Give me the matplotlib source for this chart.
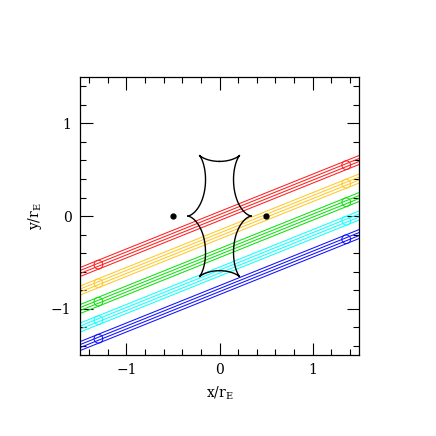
import numpy as np
import matplotlib
matplotlib.use('Agg')
import matplotlib.pyplot as plt
from matplotlib.patches import Circle

plt.rcParams['font.family'] = ['DejaVu Serif']
plt.rcParams['mathtext.fontset'] = 'dejavuserif'

# lens: two equal masses on the x axis
lens_x = [-0.5, 0.5]
lens_m = [0.5, 0.5]

# source trajectories (y at x=0), angle, colours
traj_y0 = [0.0, -0.2, -0.4, -0.6, -0.8]
traj_colors = ['#ff2020', '#ffc828', '#10e010', '#10ffff', '#1010ff']
traj_angle = 22.0           # degrees
line_offsets = [-0.045, -0.015, 0.015, 0.045]   # lines across the source disc
rho = 0.047                 # source radius
circle_x = [-1.30, 1.36]    # where the source disc is drawn


def caustic_tracks(n=2000):
    z1, z2 = lens_x
    m1, m2 = lens_m
    p1 = np.array([1.0, -z1], dtype=complex)
    p2 = np.array([1.0, -z2], dtype=complex)
    p1s = np.polymul(p1, p1)
    p2s = np.polymul(p2, p2)
    quart = np.polymul(p1s, p2s)
    quad = m1*p2s + m2*p1s
    tracks = []
    prev = None
    for phi in np.linspace(0, 2*np.pi, n):
        e = complex(np.cos(phi), np.sin(phi))
        coeffs = -e*quart
        coeffs[2:] += quad
        r = np.roots(coeffs)
        if prev is not None:   # keep roots in the same order as last step
            order = []
            left = list(range(len(r)))
            for p in prev:
                k = min(left, key=lambda j: abs(r[j]-p))
                order.append(k)
                left.remove(k)
            r = r[order]
        prev = r
        tracks.append(r)
    z = np.array(tracks)
    w = z - m1/np.conj(z - z1) - m2/np.conj(z - z2)
    return w


fig = plt.figure(figsize=(4.36, 4.36), dpi=100)
ax = fig.add_axes([0.183, 0.186, 0.641, 0.637])

th = np.radians(traj_angle)
xs = np.array([-2.0, 2.0])
for y0, c in zip(traj_y0, traj_colors):
    for off in line_offsets:
        ax.plot(xs, y0 + np.tan(th)*xs + off/np.cos(th), color=c, lw=0.75)
    for cx in circle_x:
        ax.add_patch(Circle((cx, y0 + np.tan(th)*cx), rho, fill=False,
                            ec=c, lw=0.75))

w = caustic_tracks()
for k in range(w.shape[1]):
    ax.plot(w[:, k].real, w[:, k].imag, color='k', lw=1.0)

ax.plot(lens_x, [0, 0], 'o', color='k', ms=3.5)

ax.set_xlim(-1.5, 1.5)
ax.set_ylim(-1.5, 1.5)
ax.set_xticks([-1, 0, 1])
ax.set_yticks([-1, 0, 1])
ax.set_xticklabels(['\u22121', '0', '1'])
ax.set_yticklabels(['\u22121', '0', '1'])
ax.set_xticks(np.arange(-1.4, 1.5, 0.2), minor=True)
ax.set_yticks(np.arange(-1.4, 1.5, 0.2), minor=True)
ax.tick_params(which='both', direction='in', top=True, right=True,
               labelsize=10, width=0.8)
ax.tick_params(which='major', length=9, pad=6)
ax.tick_params(which='minor', length=4.5)
for s in ax.spines.values():
    s.set_linewidth(0.9)

ax.set_xlabel(r'x/r$_{\rm E}$', fontsize=10, labelpad=5)
ax.set_ylabel(r'y/r$_{\rm E}$', fontsize=10, labelpad=5)

fig.savefig('out.png', dpi=100)
